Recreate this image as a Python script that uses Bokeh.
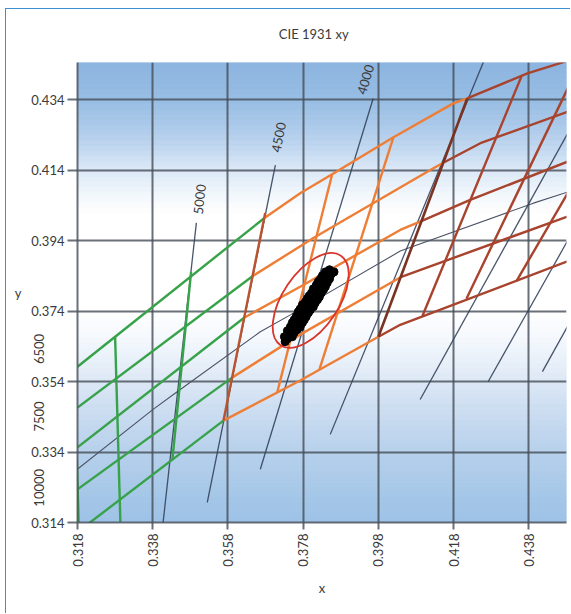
import numpy as np
from bokeh.plotting import figure
from bokeh.models import Range1d, FixedTicker, Label
from bokeh.embed import file_html
from bokeh.resources import INLINE

# ---------------- data (CIE 1931 x, y) ----------------
x_ticks = [0.318, 0.338, 0.358, 0.378, 0.398, 0.418, 0.438]
y_ticks = [0.314, 0.334, 0.354, 0.374, 0.394, 0.414, 0.434]
x_tick_labels = ["0.318", "0.338", "0.358", "0.378", "0.398", "0.418", "0.438"]
y_tick_labels = ["0.314", "0.334", "0.354", "0.374", "0.394", "0.414", "0.434"]
x_lim = (0.318, 0.448)
y_lim = (0.314, 0.4445)

# Planckian locus (thin line)
planck_x = [0.3169, 0.3381, 0.3445, 0.3666, 0.3746, 0.4038, 0.4392, 0.4490]
planck_y = [0.3282, 0.3461, 0.3511, 0.3681, 0.3729, 0.3910, 0.4046, 0.4080]

# isotherm lines
iso_xs = [[0.3496, 0.3407], [0.3706, 0.3525], [0.3966, 0.3666], [0.4264, 0.3852],
          [0.4517, 0.4091], [0.4544, 0.4272], [0.4544, 0.4416]]
iso_ys = [[0.3990, 0.3135], [0.4154, 0.3197], [0.4343, 0.3291], [0.4459, 0.3390],
          [0.4309, 0.3489], [0.4055, 0.3540], [0.3814, 0.3568]]
iso_labels = ["5000", "4500", "4000"]
iso_label_x = [0.3504, 0.3714, 0.3945]
iso_label_y = [0.4057, 0.4233, 0.4397]
iso_label_angle = [84, 79, 73.5]
# CCT labels beside the y axis, read bottom to top
side_labels = ["10000", "7500", "6500"]
side_label_x = 0.3078
side_label_y = 0.3430

# titles placed in data coordinates
title_text, title_x, title_y = "CIE 1931 xy", 0.3808, 0.4527
ylabel_text, ylabel_x, ylabel_y = "y", 0.3022, 0.3791

# quadrangle grid: green band
green_xs = [[0.3180, 0.3677], [0.3180, 0.3647], [0.3180, 0.3623], [0.3180, 0.3591],
            [0.3180, 0.3568], [0.3178, 0.3183], [0.3280, 0.3294], [0.3482, 0.3432]]
green_ys = [[0.3582, 0.4004], [0.3466, 0.3840], [0.3353, 0.3721], [0.3234, 0.3551],
            [0.3113, 0.3429], [0.3325, 0.3141], [0.3667, 0.3141], [0.3851, 0.3316]]
# orange band
orange_xs = [[0.3677, 0.3772, 0.3857, 0.4020, 0.4179, 0.4216],
             [0.3647, 0.3807, 0.4126, 0.4155],
             [0.3623, 0.3772, 0.4038, 0.4094],
             [0.3591, 0.3772, 0.4041],
             [0.3568, 0.3772, 0.3980],
             [0.3857, 0.3711], [0.4020, 0.3823]]
orange_ys = [[0.4004, 0.4074, 0.4128, 0.4233, 0.4329, 0.4343],
             [0.3840, 0.3947, 0.4145, 0.4162],
             [0.3721, 0.3809, 0.3970, 0.3995],
             [0.3551, 0.3673, 0.3837],
             [0.3429, 0.3543, 0.3667],
             [0.4128, 0.3509], [0.4233, 0.3574]]
# brown band
brown_xs = [[0.4216, 0.4376, 0.4493], [0.4155, 0.4251, 0.4493], [0.4094, 0.4224, 0.4493],
            [0.4041, 0.4493], [0.3980, 0.4038, 0.4493],
            [0.4360, 0.4097], [0.4520, 0.4214], [0.4570, 0.4347]]
brown_ys = [[0.4343, 0.4414, 0.4453], [0.4162, 0.4216, 0.4309], [0.3995, 0.4055, 0.4168],
            [0.3837, 0.4012], [0.3667, 0.3701, 0.3885],
            [0.4405, 0.3726], [0.4453, 0.3775], [0.4233, 0.3825]]
# band boundaries
rust_x = [0.3679, 0.3568]
rust_y = [0.4018, 0.3429]
darkbrown_x = [0.4216, 0.3980]
darkbrown_y = [0.4343, 0.3667]

# measured chromaticities (black cluster)
blob_x = [0.3732, 0.3738, 0.3730, 0.3743, 0.3751, 0.3748, 0.3738, 0.3756, 0.3756, 0.3746,
          0.3764, 0.3762, 0.3751, 0.3772, 0.3767, 0.3756, 0.3778, 0.3772, 0.3762, 0.3783,
          0.3778, 0.3767, 0.3788, 0.3783, 0.3772, 0.3794, 0.3788, 0.3778, 0.3799, 0.3796,
          0.3786, 0.3807, 0.3802, 0.3791, 0.3812, 0.3807, 0.3796, 0.3818, 0.3812, 0.3802,
          0.3823, 0.3818, 0.3807, 0.3828, 0.3823, 0.3815, 0.3834, 0.3828, 0.3820, 0.3839,
          0.3836, 0.3826, 0.3844, 0.3842, 0.3831, 0.3850, 0.3847, 0.3839, 0.3855, 0.3862,
          0.3850]
blob_y = [0.3653, 0.3661, 0.3667, 0.3673, 0.3667, 0.3681, 0.3684, 0.3678, 0.3690, 0.3695,
          0.3687, 0.3701, 0.3707, 0.3695, 0.3709, 0.3715, 0.3707, 0.3718, 0.3726, 0.3715,
          0.3729, 0.3738, 0.3724, 0.3738, 0.3746, 0.3735, 0.3749, 0.3758, 0.3743, 0.3758,
          0.3766, 0.3752, 0.3766, 0.3775, 0.3763, 0.3777, 0.3783, 0.3772, 0.3786, 0.3791,
          0.3780, 0.3794, 0.3803, 0.3791, 0.3806, 0.3814, 0.3800, 0.3814, 0.3823, 0.3809,
          0.3823, 0.3831, 0.3820, 0.3834, 0.3840, 0.3831, 0.3842, 0.3851, 0.3845, 0.3851,
          0.3857]

# tolerance ellipse
ell_x, ell_y = 0.3800, 0.3770
ell_w, ell_h, ell_angle = 0.0287, 0.0158, 56

# ---------------- styling ----------------
FONT = "Lato"
TXT = "#3a3a3a"
GRID = "#454c56"
GREEN = "#37a24a"
ORANGE = "#ee7e35"
BROWN = "#a8432d"
RUST = "#b9542f"
DARKBROWN = "#7a3323"
ISO = "#33415a"
FRAME_BLUE = "#3d8fd1"

p = figure(width=565, height=605, output_backend="svg", toolbar_location=None,
           x_range=Range1d(*x_lim), y_range=Range1d(*y_lim),
           min_border_left=71, min_border_right=5, min_border_top=53, min_border_bottom=91,
           margin=(8, 0, 0, 5),
           styles={"border-left": "1px solid " + FRAME_BLUE, "border-top": "1px solid " + FRAME_BLUE})
p.outline_line_color = None
p.background_fill_color = "white"
p.border_fill_color = "white"

# background gradient (decoration)
stops_y = [0.314, 0.320, 0.332, 0.344, 0.356, 0.366, 0.374, 0.402, 0.408, 0.416, 0.424, 0.434, 0.4445]
stops_c = [(158, 195, 231), (163, 198, 232), (180, 207, 235), (200, 219, 240), (225, 235, 247),
           (244, 248, 253), (255, 255, 255), (255, 255, 255), (240, 246, 252), (212, 228, 245),
           (180, 207, 236), (152, 190, 228), (140, 181, 223)]
edges = np.linspace(y_lim[0], y_lim[1], 90)
mids = (edges[:-1] + edges[1:]) / 2
cols = []
for m in mids:
    r = np.interp(m, stops_y, [c[0] for c in stops_c])
    g = np.interp(m, stops_y, [c[1] for c in stops_c])
    b = np.interp(m, stops_y, [c[2] for c in stops_c])
    cols.append("#%02x%02x%02x" % (int(r), int(g), int(b)))
p.quad(left=x_lim[0], right=x_lim[1], bottom=edges[:-1], top=edges[1:],
       fill_color=cols, line_color=cols, line_width=1, level="image")

# grid & axes
for g, t in ((p.xgrid, x_ticks), (p.ygrid, y_ticks)):
    g.ticker = FixedTicker(ticks=t)
    g.grid_line_color = GRID
    g.grid_line_width = 2
    g.grid_line_alpha = 0.8

p.xaxis.ticker = FixedTicker(ticks=x_ticks)
p.yaxis.ticker = FixedTicker(ticks=y_ticks)
p.xaxis.major_label_overrides = {t: s for t, s in zip(x_ticks, x_tick_labels)}
p.yaxis.major_label_overrides = {t: s for t, s in zip(y_ticks, y_tick_labels)}
p.xaxis.major_label_orientation = np.pi / 2
for ax in (p.xaxis, p.yaxis):
    ax.axis_line_color = GRID
    ax.axis_line_width = 2
    ax.axis_line_alpha = 0.8
    ax.major_tick_line_color = GRID
    ax.major_tick_line_width = 2
    ax.major_tick_line_alpha = 0.8
    ax.major_tick_in = 0
    ax.minor_tick_line_color = None
    ax.major_label_text_font = FONT
    ax.major_label_text_font_size = "13px"
    ax.major_label_text_color = TXT
    ax.axis_label_text_font = FONT
    ax.axis_label_text_font_size = "13px"
    ax.axis_label_text_font_style = "normal"
    ax.axis_label_text_color = TXT
p.xaxis.major_tick_out = 7
p.xaxis.major_label_standoff = 4
p.xaxis.axis_label = "x"
p.xaxis.axis_label_standoff = 10
p.yaxis.major_tick_out = 10
p.yaxis.major_label_standoff = 3

# Planckian locus and isotherms
p.line(planck_x, planck_y, line_color="#4b5264", line_width=1.1)
p.multi_line(iso_xs, iso_ys, line_color=ISO, line_width=1.3, line_alpha=0.9)

# quadrangle grid
p.multi_line(green_xs, green_ys, line_color=GREEN, line_width=2.4)
p.multi_line(orange_xs, orange_ys, line_color=ORANGE, line_width=2.4)
p.multi_line(brown_xs, brown_ys, line_color=BROWN, line_width=2.4)
p.line(rust_x, rust_y, line_color=RUST, line_width=2.4)
p.line(darkbrown_x, darkbrown_y, line_color=DARKBROWN, line_width=2.6)

# ellipse and measured points
p.ellipse(x=ell_x, y=ell_y, width=ell_w, height=ell_h, angle=ell_angle, angle_units="deg",
          fill_color=None, line_color="#d9352b", line_width=1.8)
p.scatter(blob_x, blob_y, size=8, marker="circle", fill_color="black", line_color="black")

# labels inside the plot
for t, x, y, a in zip(iso_labels, iso_label_x, iso_label_y, iso_label_angle):
    p.add_layout(Label(x=x, y=y, text=t, angle=a, angle_units="deg", text_align="center",
                       text_baseline="middle", text_font=FONT, text_font_size="13px",
                       text_color=TXT))

# labels outside the plot area (side panels, so they are not clipped)
def outer_label(text, x, y, angle, place):
    p.add_layout(Label(x=x, y=y, text=text, angle=angle, angle_units="deg", text_align="center",
                       text_baseline="middle", text_font=FONT, text_font_size="13px",
                       text_color=TXT), place)

SEP = "\u2003\u2003\u2003\u2002\u2009"
outer_label(title_text, title_x, title_y, 0, "above")
outer_label(SEP.join(side_labels), side_label_x, side_label_y, 90, "left")
outer_label(ylabel_text, ylabel_x, ylabel_y, 0, "below")

open("out.html", "w").write(file_html(p, INLINE))
